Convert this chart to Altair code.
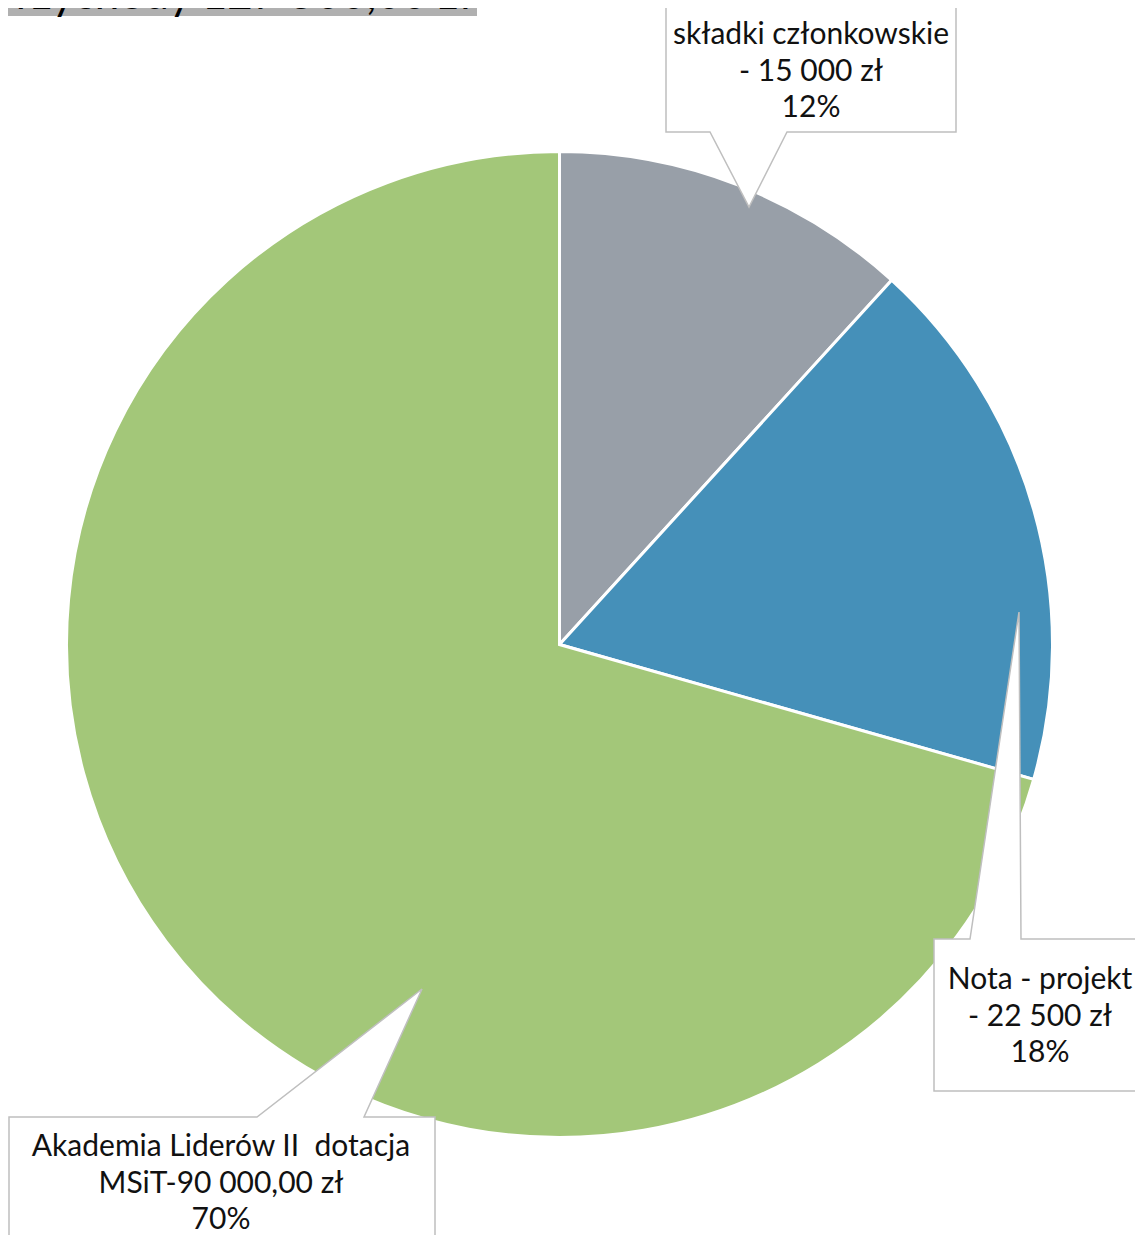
import altair as alt
import pandas as pd

# --- data ---
categories = ["składki członkowskie", "Nota - projekt", "Akademia Liderów II dotacja MSiT"]
values = [15000, 22500, 90000]
colors = ["#989FA8", "#4590B9", "#A3C779"]
labels = [
    "składki członkowskie\n- 15 000 zł\n12%",
    "Nota - projekt\n- 22 500 zł\n18%",
    "Akademia Liderów II\u00a0 dotacja\nMSiT-90 000,00 zł\n70%",
]
title_text = "Przychody 127 500,00 zł"

# --- layout constants (screen pixels, shifted by the page margin) ---
OX, OY = 8, 8
W, H = 1127, 1227
CX, CY, R = 559.5 - OX, 644.5 - OY, 493
FONT = "Lato"

pie_df = pd.DataFrame({"cat": categories, "val": values, "ord": [0, 1, 2]})

pie = alt.Chart(pie_df).mark_arc(radius=R, stroke="white", strokeWidth=3).encode(
    theta=alt.Theta("val:Q", stack=True),
    order=alt.Order("ord:Q"),
    color=alt.Color("cat:N", scale=alt.Scale(domain=categories, range=colors), legend=None),
    x=alt.value(CX),
    y=alt.value(CY),
)

# callout outlines (box + pointer), screen coordinates
callouts = {
    0: [(666, 7), (956, 7), (956, 132), (787, 132), (749, 207), (710, 132), (666, 132)],
    1: [(934, 939), (970, 939), (1019, 612), (1021, 939), (1142, 939), (1142, 1091), (934, 1091)],
    2: [(9, 1117), (257, 1117), (422, 989), (364, 1117), (435, 1117), (435, 1250), (9, 1250)],
}
rows = []
for k, pts in callouts.items():
    for i, (px, py) in enumerate(pts):
        rows.append({"id": k, "i": i, "px": px - OX, "py": py - OY})
poly_df = pd.DataFrame(rows)

boxes = alt.Chart(poly_df).mark_line(
    fill="white", stroke="#BFBFBF", strokeWidth=1.5, interpolate="linear-closed"
).encode(
    x=alt.X("px:Q", scale=None, axis=None),
    y=alt.Y("py:Q", scale=None, axis=None),
    detail="id:N",
    order="i:Q",
)

# first-line centre of each label, screen coordinates
text_pos = [(811, 35), (1040, 980), (221, 1147)]
txt_df = pd.DataFrame({
    "label": labels,
    "tx": [p[0] - OX for p in text_pos],
    "ty": [p[1] - OY for p in text_pos],
})
texts = alt.Chart(txt_df).mark_text(
    font=FONT, fontSize=30, color="#111111", align="center", baseline="middle",
    lineBreak="\n", lineHeight=36.5,
).encode(
    x=alt.X("tx:Q", scale=None, axis=None),
    y=alt.Y("ty:Q", scale=None, axis=None),
    text="label:N",
)

title_bg = alt.Chart(pd.DataFrame({"a": [0]})).mark_rect(color="#B0B0B0").encode(
    x=alt.value(0), x2=alt.value(477 - OX), y=alt.value(0), y2=alt.value(16 - OY)
)
title = alt.Chart(pd.DataFrame({"t": [title_text]})).mark_text(
    font=FONT, fontSize=44, color="black", align="right", baseline="alphabetic"
).encode(x=alt.value(472 - OX), y=alt.value(9 - OY), text="t:N")

chart = alt.layer(pie, boxes, texts, title_bg, title).properties(
    width=W, height=H, padding=0, autosize=alt.AutoSizeParams(type="none")
).configure_view(stroke=None, clip=False)

chart.save("out.html", embed_options={"renderer": "svg", "actions": False})
